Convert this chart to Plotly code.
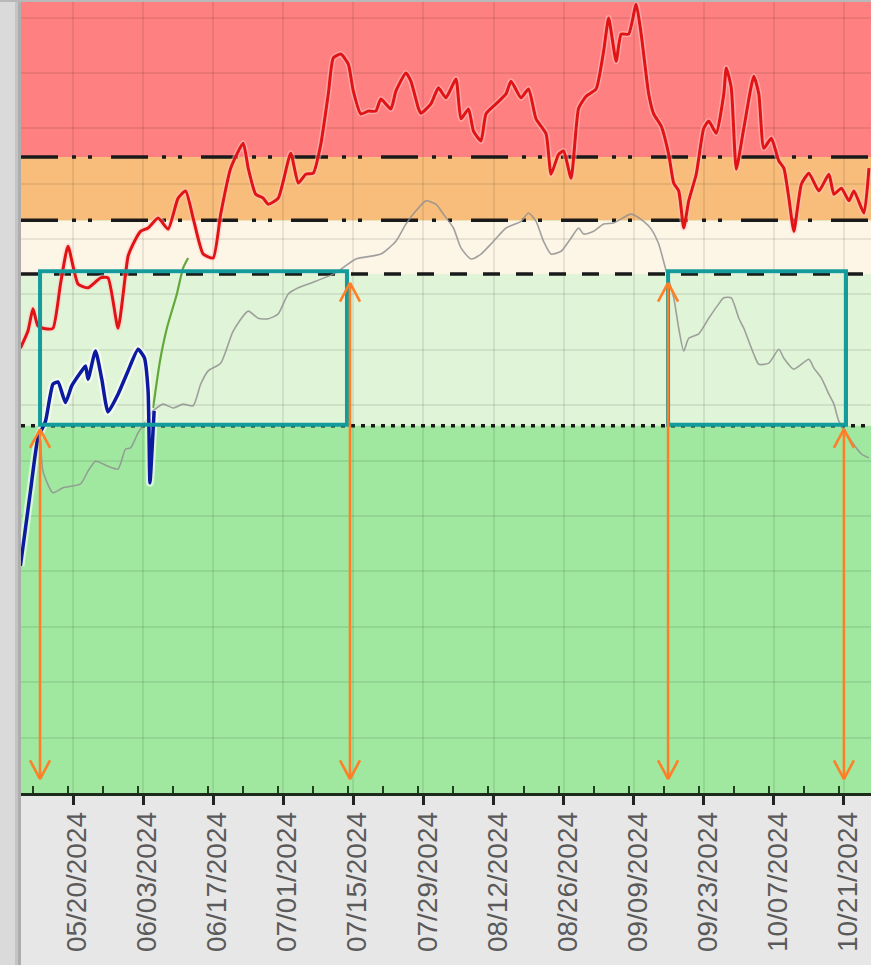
import plotly.graph_objects as go
import pandas as pd

# ---------------- data ----------------
red_dates = [
    "2024-05-09 12:00", "2024-05-11", "2024-05-12", "2024-05-13", "2024-05-14 12:00", "2024-05-16",
    "2024-05-17 12:00", "2024-05-19", "2024-05-21", "2024-05-23", "2024-05-25 12:00", "2024-05-27",
    "2024-05-29", "2024-05-31", "2024-06-01", "2024-06-02 12:00", "2024-06-04", "2024-06-06",
    "2024-06-08", "2024-06-10", "2024-06-11 12:00", "2024-06-13", "2024-06-15", "2024-06-17",
    "2024-06-18 12:00", "2024-06-20 12:00", "2024-06-23", "2024-06-24", "2024-06-25 12:00", "2024-06-27",
    "2024-06-28", "2024-06-30", "2024-07-02 12:00", "2024-07-04", "2024-07-05 12:00", "2024-07-07",
    "2024-07-08 12:00", "2024-07-10", "2024-07-11", "2024-07-12 12:00", "2024-07-14", "2024-07-15",
    "2024-07-16 12:00", "2024-07-18", "2024-07-19 12:00", "2024-07-20 12:00", "2024-07-22 12:00",
    "2024-07-23 12:00", "2024-07-25 12:00", "2024-07-26 12:00", "2024-07-28", "2024-07-28 12:00",
    "2024-07-30 12:00", "2024-08-01", "2024-08-02 12:00", "2024-08-04 12:00", "2024-08-05 12:00",
    "2024-08-07", "2024-08-08", "2024-08-09 12:00", "2024-08-10 12:00", "2024-08-12 12:00",
    "2024-08-14 12:00", "2024-08-15 12:00", "2024-08-17 12:00", "2024-08-19", "2024-08-20 12:00",
    "2024-08-22 12:00", "2024-08-23 12:00", "2024-08-25", "2024-08-26", "2024-08-27 12:00",
    "2024-08-29", "2024-08-30 12:00", "2024-09-01 12:00", "2024-09-03", "2024-09-04",
    "2024-09-05 12:00", "2024-09-06 12:00", "2024-09-08", "2024-09-09 12:00", "2024-09-10 12:00",
    "2024-09-12", "2024-09-13", "2024-09-14 12:00", "2024-09-16", "2024-09-17", "2024-09-18",
    "2024-09-19", "2024-09-20", "2024-09-21 12:00", "2024-09-23", "2024-09-24", "2024-09-25 12:00",
    "2024-09-27", "2024-09-27 12:00", "2024-09-28 12:00", "2024-09-29 12:00", "2024-10-01",
    "2024-10-03", "2024-10-04", "2024-10-05", "2024-10-06 12:00", "2024-10-08", "2024-10-09",
    "2024-10-10", "2024-10-11", "2024-10-12 12:00", "2024-10-14", "2024-10-16", "2024-10-18",
    "2024-10-19", "2024-10-20 12:00", "2024-10-22", "2024-10-23", "2024-10-25", "2024-10-26",
]
red_values = [
    80.3, 83.4, 87.4, 84.3, 83.8, 83.9,
    91.9, 98.7, 91.9, 91.2, 93.0, 93.0,
    83.9, 96.9, 99.1, 101.4, 102.0, 103.8,
    101.8, 107.4, 108.7, 103.8, 97.3, 96.6,
    104.5, 112.8, 117.3, 112.8, 108.1, 107.4,
    106.3, 107.4, 115.5, 110.1, 111.7, 111.9,
    117.1, 126.2, 132.7, 133.4, 131.6, 126.7,
    122.6, 123.1, 123.1, 125.3, 123.5,
    126.7, 130.0, 128.5, 123.6, 122.7,
    124.4, 127.3, 125.5, 128.9, 121.7,
    123.5, 119.5, 117.7, 122.6, 124.4,
    126.2, 128.5, 125.5, 127.1, 121.7,
    119.0, 111.7, 115.3, 115.9, 111.0,
    123.6, 125.8, 127.1, 133.9, 139.9,
    132.1, 137.0, 137.0, 142.4, 137.0,
    126.2, 122.6, 120.4, 115.3, 110.1, 108.7,
    102.0, 106.9, 111.7, 120.0, 121.3, 119.1,
    126.2, 130.9, 127.3, 112.6, 120.0,
    129.4, 126.2, 116.4, 118.2, 114.1, 112.8,
    107.4, 101.4, 109.9, 111.9, 108.7, 111.7,
    108.1, 109.2, 106.9, 108.7, 104.7, 112.8,
]

blue_dates = [
    "2024-05-09 12:00", "2024-05-11 12:00", "2024-05-13", "2024-05-14 12:00", "2024-05-16",
    "2024-05-17", "2024-05-18 12:00", "2024-05-19 18:00", "2024-05-21 12:00", "2024-05-22 12:00",
    "2024-05-23", "2024-05-24 12:00", "2024-05-25 18:00", "2024-05-27", "2024-05-29",
    "2024-05-31", "2024-06-02", "2024-06-03 06:00", "2024-06-04 00:00", "2024-06-04 09:00",
    "2024-06-04 22:00", "2024-06-05 05:00",
]
blue_values = [
    41.0, 54.5, 64.1, 67.1, 73.8,
    74.2, 70.5, 73.5, 75.9, 77.1,
    74.7, 79.8, 74.7, 68.8, 72.0,
    76.2, 80.1, 78.6, 72.6, 56.0,
    64.1, 69.0,
]

green_dates = ["2024-06-05 00:00", "2024-06-06 09:00", "2024-06-07 18:00", "2024-06-09 18:00",
               "2024-06-11", "2024-06-12"]
green_values = [69.5, 78.0, 83.9, 90.1, 94.8, 96.6]

grey_dates = [
    "2024-05-13 12:00", "2024-05-14", "2024-05-16", "2024-05-18", "2024-05-21 12:00", "2024-05-23",
    "2024-05-24 12:00", "2024-05-27", "2024-05-29", "2024-05-30 12:00", "2024-05-31 12:00",
    "2024-06-02", "2024-06-04", "2024-06-05", "2024-06-07", "2024-06-09", "2024-06-11", "2024-06-13",
    "2024-06-14 12:00", "2024-06-16", "2024-06-18 12:00", "2024-06-21", "2024-06-24", "2024-06-26",
    "2024-06-28", "2024-06-30", "2024-07-02", "2024-07-04", "2024-07-07 12:00", "2024-07-11 12:00",
    "2024-07-15 12:00", "2024-07-20 12:00", "2024-07-23 12:00", "2024-07-25 12:00",
    "2024-07-27 12:00", "2024-07-29 12:00", "2024-07-31 12:00", "2024-08-02", "2024-08-04",
    "2024-08-05 12:00", "2024-08-07 12:00", "2024-08-09 12:00", "2024-08-12", "2024-08-14 12:00",
    "2024-08-17 12:00", "2024-08-19", "2024-08-20 12:00", "2024-08-22", "2024-08-23 12:00",
    "2024-08-25 12:00", "2024-08-27 12:00", "2024-08-29", "2024-08-30", "2024-09-01", "2024-09-03",
    "2024-09-05", "2024-09-08 12:00", "2024-09-11", "2024-09-12 12:00", "2024-09-14",
    "2024-09-15 12:00", "2024-09-17", "2024-09-18", "2024-09-19", "2024-09-20", "2024-09-22",
    "2024-09-24", "2024-09-26", "2024-09-27", "2024-09-28 12:00", "2024-09-30", "2024-10-01",
    "2024-10-03", "2024-10-04", "2024-10-06", "2024-10-08", "2024-10-09", "2024-10-11",
    "2024-10-14", "2024-10-15", "2024-10-16 12:00", "2024-10-18", "2024-10-19", "2024-10-20",
    "2024-10-22 12:00", "2024-10-24 12:00", "2024-10-26",
]
grey_values = [
    65.3, 58.1, 54.2, 55.1, 55.8, 58.1,
    59.9, 59.0, 58.5, 62.1, 62.3,
    65.0, 67.7, 69.0, 70.2, 69.5, 70.2, 69.9,
    73.8, 76.2, 77.6, 83.4, 87.0, 85.7,
    85.6, 86.5, 90.1, 91.2, 92.4, 93.9,
    96.4, 97.3, 99.6, 102.7,
    105.1, 106.9, 106.3, 104.5, 102.0,
    98.4, 96.4, 97.3, 99.6, 102.0,
    103.2, 104.7, 103.2, 99.6, 97.3,
    97.8, 100.2, 102.0, 100.9, 101.4, 102.7,
    102.9, 104.5, 103.2, 101.8, 99.1,
    94.2, 89.4, 83.9, 79.8, 82.1, 82.9,
    85.7, 88.3, 89.4, 89.4, 85.7, 83.9,
    79.2, 77.4, 77.6, 80.1, 78.5, 76.5,
    78.3, 76.7, 74.9, 72.0, 70.2, 67.1,
    63.5, 61.2, 60.5,
]

zone_bounds = [0, 66.3, 93.7, 103.4, 114.8, 142.8]
zone_colors = ["#a0e8a0", "#e0f5d8", "#fdf6e7", "#f9bd7b", "#ff8080"]

threshold_values = [66.3, 93.7, 103.4, 114.8]
threshold_dashes = ["4px,6px", "17px,16px", "37px,14px,4px,12px,4px,19px", "37px,14px,4px,12px,4px,19px"]

box_starts = ["2024-05-13 10:00", "2024-09-15 21:00"]
box_ends = ["2024-07-13 17:30", "2024-10-21 10:00"]
box_low, box_high = 66.5, 94.2

arrow_dates = ["2024-05-13 10:00", "2024-07-14 08:00", "2024-09-15 21:00", "2024-10-21 00:00"]
arrow_tops = [65.7, 92.1, 92.1, 65.7]
arrow_bottom = 2.5

x_range = ["2024-05-09 14:43", "2024-10-26 09:50"]
y_range = [0, 142.8]
tick_start = "2024-05-20"

DAY_MS = 86400000
ORANGE = "#ff7f27"
TEAL = "#149c9c"

fig = go.Figure()

# threshold lines (drawn under the data lines)
for val, dash in zip(threshold_values, threshold_dashes):
    fig.add_trace(go.Scatter(x=x_range, y=[val, val], mode="lines",
                             line=dict(color="#1a1a1a", width=3.5, dash=dash),
                             hoverinfo="skip"))

fig.add_trace(go.Scatter(x=grey_dates, y=grey_values, mode="lines",
                         line=dict(color="rgba(145,145,145,0.85)", width=1.6, shape="spline", smoothing=0.6)))
fig.add_trace(go.Scatter(x=green_dates, y=green_values, mode="lines",
                         line=dict(color="#62a83c", width=2.2, shape="spline", smoothing=0.6)))
fig.add_trace(go.Scatter(x=blue_dates, y=blue_values, mode="lines",
                         line=dict(color="rgba(255,255,255,0.6)", width=8, shape="spline", smoothing=0.5)))
fig.add_trace(go.Scatter(x=blue_dates, y=blue_values, mode="lines",
                         line=dict(color="#0c1aa0", width=3.5, shape="spline", smoothing=0.5)))
fig.add_trace(go.Scatter(x=red_dates, y=red_values, mode="lines",
                         line=dict(color="rgba(255,200,200,0.5)", width=6, shape="spline", smoothing=0.5)))
fig.add_trace(go.Scatter(x=red_dates, y=red_values, mode="lines",
                         line=dict(color="#e01414", width=3, shape="spline", smoothing=0.5)))

shapes = []
# background zones
for lo, hi, col in zip(zone_bounds[:-1], zone_bounds[1:], zone_colors):
    shapes.append(dict(type="rect", xref="paper", yref="y", x0=0, x1=1, y0=lo, y1=hi,
                       fillcolor=col, line=dict(width=0), layer="below"))

# teal boxes
for s, e in zip(box_starts, box_ends):
    shapes.append(dict(type="rect", xref="x", yref="y", x0=s, x1=e, y0=box_low, y1=box_high,
                       line=dict(color=TEAL, width=4), fillcolor="rgba(0,0,0,0)", layer="above"))

# orange double-headed arrows
head_dx = pd.Timedelta(days=2.0)
head_dy = 3.4
for d, top in zip(arrow_dates, arrow_tops):
    t = pd.Timestamp(d)
    segs = [
        (t, arrow_bottom, t, top),
        (t - head_dx, top - head_dy, t, top), (t + head_dx, top - head_dy, t, top),
        (t - head_dx, arrow_bottom + head_dy, t, arrow_bottom),
        (t + head_dx, arrow_bottom + head_dy, t, arrow_bottom),
    ]
    for x0, y0, x1, y1 in segs:
        shapes.append(dict(type="line", xref="x", yref="y", x0=x0, y0=y0, x1=x1, y1=y1,
                           line=dict(color=ORANGE, width=2.6), layer="above"))

# left grey strip with shadow, and top border
pw, ph = 850.0, 791.0
strip = [(-21, -6, "#dadada"), (-6, -3, "#c4c4c4"), (-3, 0, "#adadad")]
for a, b, col in strip:
    shapes.append(dict(type="rect", xref="paper", yref="paper", x0=a / pw, x1=b / pw,
                       y0=-172 / ph, y1=1 + 2 / ph, fillcolor=col, line=dict(width=0), layer="above"))
shapes.append(dict(type="rect", xref="paper", yref="paper", x0=-21 / pw, x1=1, y0=1, y1=1 + 2 / ph,
                   fillcolor="#b8b8b8", line=dict(width=0), layer="above"))

fig.update_layout(
    width=871, height=965,
    margin=dict(l=21, r=0, t=2, b=172),
    paper_bgcolor="#e8e7e7",
    plot_bgcolor="#a0e8a0",
    showlegend=False,
    shapes=shapes,
    xaxis=dict(
        type="date", range=x_range, tick0=tick_start, dtick=14 * DAY_MS,
        tickformat="%m/%d/%Y", tickangle=-90,
        ticks="outside", ticklen=9, tickwidth=2.5, tickcolor="#222222",
        ticklabelstandoff=-4, ticklabelshift=4,
        tickfont=dict(family="Liberation Sans", size=28, color="#5a5a5a"),
        showline=True, linecolor="#1d2b1d", linewidth=2.5,
        showgrid=True, gridcolor="rgba(0,0,0,0.08)", gridwidth=1.5,
        zeroline=False,
        minor=dict(dtick=7 * DAY_MS, ticks="inside", ticklen=7, tickwidth=2,
                   tickcolor="#1f3f1f", showgrid=False),
    ),
    yaxis=dict(
        range=y_range, tick0=0, dtick=10, showticklabels=False, ticks="",
        showgrid=True, gridcolor="rgba(0,0,0,0.08)", gridwidth=1.5,
        zeroline=False, showline=False,
    ),
)

fig.write_html(
    "out.html",
    config={"displayModeBar": False},
    post_script="document.body.style.margin='0';document.body.style.padding='0';"
                "document.documentElement.style.overflow='hidden';",
)
